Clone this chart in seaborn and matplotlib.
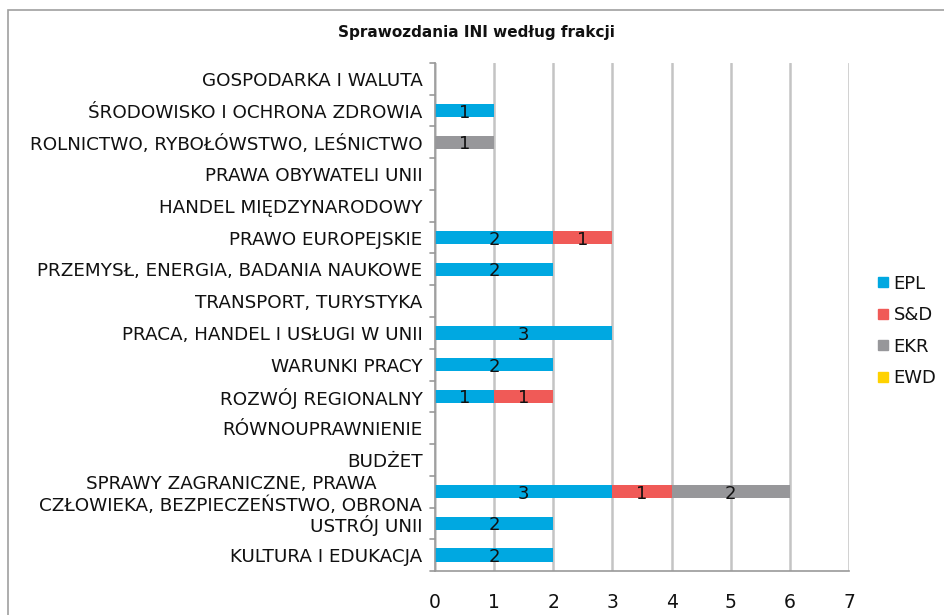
import matplotlib
matplotlib.use("Agg")
import matplotlib.pyplot as plt
import seaborn as sns
import pandas as pd
import numpy as np
from matplotlib.patches import Rectangle
from matplotlib.lines import Line2D

categories = [
    "GOSPODARKA I WALUTA",
    "ŚRODOWISKO I OCHRONA ZDROWIA",
    "ROLNICTWO, RYBOŁÓWSTWO, LEŚNICTWO",
    "PRAWA OBYWATELI UNII",
    "HANDEL MIĘDZYNARODOWY",
    "PRAWO EUROPEJSKIE",
    "PRZEMYSŁ, ENERGIA, BADANIA NAUKOWE",
    "TRANSPORT, TURYSTYKA",
    "PRACA, HANDEL I USŁUGI W UNII",
    "WARUNKI PRACY",
    "ROZWÓJ REGIONALNY",
    "RÓWNOUPRAWNIENIE",
    "BUDŻET",
    "SPRAWY ZAGRANICZNE, PRAWA\nCZŁOWIEKA, BEZPIECZEŃSTWO, OBRONA",
    "USTRÓJ UNII",
    "KULTURA I EDUKACJA",
]
epl = [0, 1, 0, 0, 0, 2, 2, 0, 3, 2, 1, 0, 0, 3, 2, 2]
sd  = [0, 0, 0, 0, 0, 1, 0, 0, 0, 0, 1, 0, 0, 1, 0, 0]
ekr = [0, 0, 1, 0, 0, 0, 0, 0, 0, 0, 0, 0, 0, 2, 0, 0]
ewd = [0, 0, 0, 0, 0, 0, 0, 0, 0, 0, 0, 0, 0, 0, 0, 0]
series_names = ["EPL", "S&D", "EKR", "EWD"]
colors = ["#00A8E1", "#F05A57", "#97979A", "#FFD200"]
x_ticks = [0, 1, 2, 3, 4, 5, 6, 7]
title = "Sprawozdania INI według frakcji"

sns.set_style("white")
plt.rcParams['font.family'] = ['DejaVu Sans']
plt.rcParams['text.color'] = '#111111'
plt.rcParams['xtick.color'] = '#111111'
plt.rcParams['ytick.color'] = '#111111'

fig = plt.figure(figsize=(9.44, 6.15), dpi=100)
ax = fig.add_axes([0.4608, 0.0715, 0.8994 - 0.4608, 0.8976 - 0.0715])

series = [epl, sd, ekr, ewd]
cum = np.cumsum(np.array(series, dtype=float), axis=0)
df = pd.DataFrame({"cat": categories})
# draw cumulative totals from the last series to the first so each is visible
for i in range(len(series) - 1, -1, -1):
    df["v"] = cum[i]
    sns.barplot(data=df, x="v", y="cat", orient="h", color=colors[i],
                width=0.42, ax=ax, saturation=1, linewidth=0, zorder=2)

# value labels
for i, s in enumerate(series):
    start = cum[i] - np.array(s)
    for j, v in enumerate(s):
        if v > 0:
            ax.text(start[j] + v / 2, j + 0.06, str(v), ha="center", va="center",
                    fontsize=13, color="#111111", zorder=3)

ax.set_xlim(0, 7)
ax.set_ylim(len(categories) - 0.5, -0.5)
ax.set_xticks(x_ticks)
ax.set_xticklabels([str(t) for t in x_ticks], fontsize=13.5)
ax.set_xlabel("")
ax.set_ylabel("")
ax.set_yticks(range(len(categories)))
ax.set_yticklabels(categories, fontsize=13.2, multialignment="center")
ax.tick_params(axis="y", length=0, pad=9)
ax.tick_params(axis="x", length=5, width=1.2, color="#999999", direction="out", pad=11)

# boundary ticks on y axis
for b in np.arange(-0.5, len(categories), 1.0):
    ax.plot([-0.09, 0], [b, b], color="#999999", lw=1.2, clip_on=False, zorder=4)

ax.grid(axis="x", color="#C4C4C4", lw=1.8, zorder=0)
ax.set_axisbelow(True)
for side in ["top", "right"]:
    ax.spines[side].set_visible(False)
for side in ["left", "bottom"]:
    ax.spines[side].set_color("#999999")
    ax.spines[side].set_linewidth(1.2)

fig.text(476 / 944, 1 - 32 / 615, title, ha="center", va="center",
         fontsize=11, fontweight="bold")

handles = [Line2D([0], [0], marker="s", linestyle="", markersize=7,
                  markerfacecolor=c, markeredgecolor=c) for c in colors]
fig.legend(handles, series_names, loc="center left",
           bbox_to_anchor=(860 / 944, 1 - 331 / 615), frameon=False,
           fontsize=13, handletextpad=0.15, labelspacing=0.75,
           handlelength=0.8)

fig.patches.append(Rectangle((8 / 944, -0.1), 1.2, 1.1 - 10 / 615,
                             transform=fig.transFigure, fill=False,
                             edgecolor="#A0A0A0", lw=1.2))

fig.savefig("out.png", dpi=100)
